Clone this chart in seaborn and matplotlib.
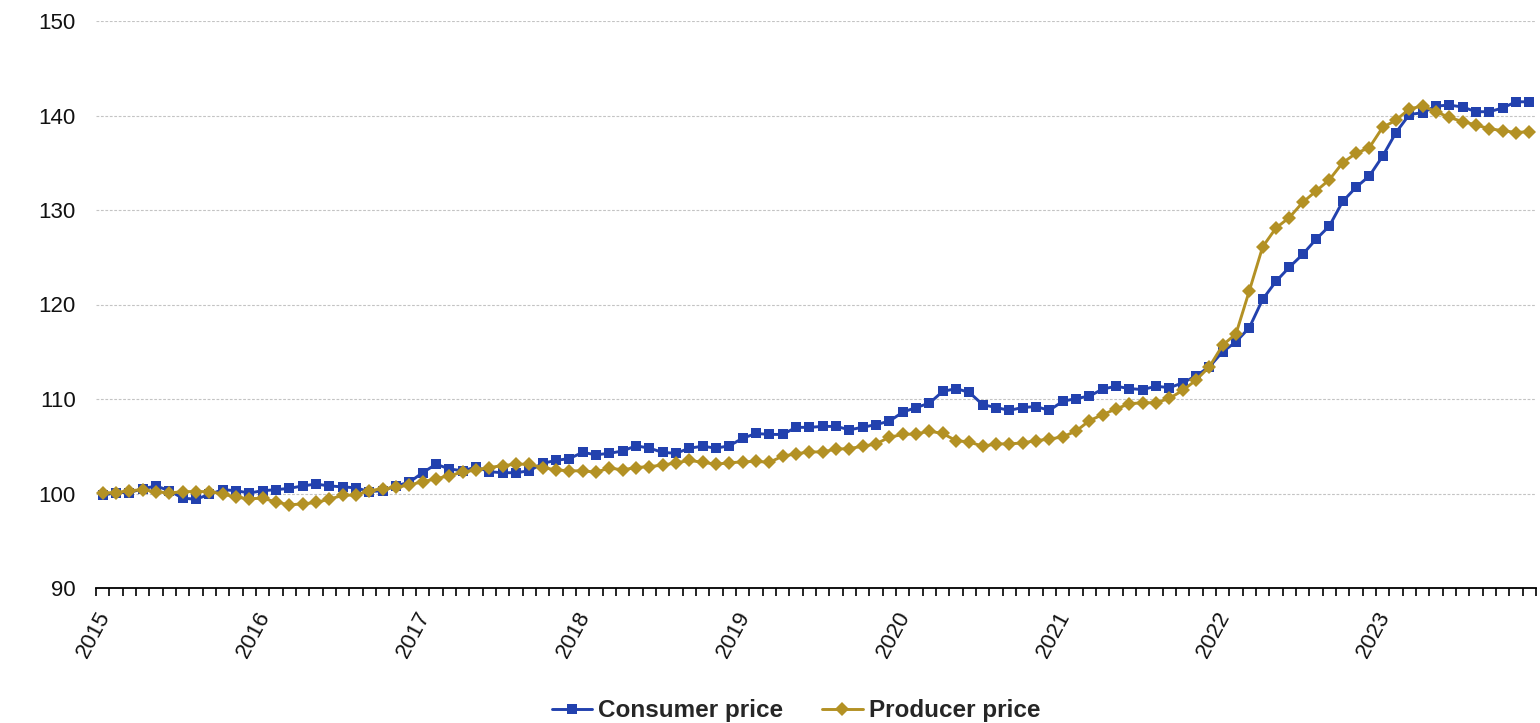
import numpy as np
import pandas as pd
import matplotlib
matplotlib.use("Agg")
import matplotlib.pyplot as plt
import matplotlib.transforms as mtransforms
from matplotlib.ticker import FixedLocator, NullFormatter
import seaborn as sns

# Monthly price indices, January 2015 = ~100
months = pd.date_range("2015-01-01", "2023-12-01", freq="MS")
years = ["2015", "2016", "2017", "2018", "2019", "2020", "2021", "2022", "2023"]

consumer_price = [
    99.8, 100.1, 100.1, 100.5, 100.8, 100.3, 99.5, 99.4, 99.9, 100.4, 100.3, 100.05,
    100.3, 100.4, 100.55, 100.8, 101.0, 100.8, 100.7, 100.6, 100.2, 100.3, 100.8, 101.2,
    102.2, 103.1, 102.6, 102.4, 102.8, 102.3, 102.2, 102.2, 102.4, 103.2, 103.5, 103.7,
    104.35, 104.1, 104.25, 104.5, 105.05, 104.8, 104.35, 104.25, 104.8, 105.0, 104.8, 105.05,
    105.85, 106.35, 106.25, 106.25, 107.0, 107.0, 107.1, 107.1, 106.75, 107.0, 107.3, 107.65,
    108.6, 109.1, 109.55, 110.8, 111.1, 110.7, 109.4, 109.1, 108.8, 109.1, 109.2, 108.8,
    109.75, 110.05, 110.3, 111.05, 111.35, 111.1, 111.0, 111.35, 111.2, 111.7, 112.45, 113.4,
    115.0, 116.05, 117.55, 120.55, 122.45, 123.95, 125.3, 126.9, 128.3, 130.9, 132.4, 133.6,
    135.7, 138.2, 140.1, 140.3, 141.0, 141.1, 140.9, 140.4, 140.4, 140.8, 141.45, 141.45,
]

producer_price = [
    100.05, 100.1, 100.3, 100.4, 100.2, 100.05, 100.2, 100.2, 100.2, 99.95, 99.6, 99.45,
    99.5, 99.1, 98.8, 98.9, 99.05, 99.4, 99.8, 99.85, 100.3, 100.5, 100.65, 100.9,
    101.25, 101.55, 101.9, 102.25, 102.5, 102.75, 102.95, 103.1, 103.1, 102.75, 102.5, 102.4,
    102.4, 102.25, 102.7, 102.5, 102.75, 102.85, 103.0, 103.25, 103.5, 103.3, 103.1, 103.25,
    103.35, 103.4, 103.3, 103.95, 104.2, 104.4, 104.4, 104.7, 104.75, 105.0, 105.25, 105.95,
    106.25, 106.3, 106.6, 106.35, 105.6, 105.45, 105.0, 105.25, 105.25, 105.35, 105.6, 105.75,
    106.0, 106.6, 107.7, 108.35, 108.95, 109.5, 109.6, 109.6, 110.07, 110.9, 112.0, 113.4,
    115.7, 116.9, 121.45, 126.1, 128.1, 129.2, 130.8, 132.0, 133.2, 135.0, 136.0, 136.6,
    138.75, 139.5, 140.7, 141.0, 140.4, 139.8, 139.35, 139.0, 138.6, 138.4, 138.2, 138.3,
]

y_ticks = [90, 100, 110, 120, 130, 140, 150]

blue = "#2241AE"
gold = "#B39124"

df = pd.DataFrame({
    "month": np.arange(len(months)),
    "Consumer price": consumer_price,
    "Producer price": producer_price,
})

sns.set_theme(style="white")
plt.rcParams["font.family"] = ["Liberation Sans", "DejaVu Sans"]

fig = plt.figure(figsize=(15.4, 7.23), dpi=100)
ax = fig.add_axes([96 / 1540, 1 - 588 / 723, 1440 / 1540, 567 / 723])

sns.lineplot(data=df, x="month", y="Consumer price", ax=ax, color=blue,
             linewidth=2.1, marker="s", markersize=7, markeredgewidth=0,
             label="Consumer price", legend=False)
sns.lineplot(data=df, x="month", y="Producer price", ax=ax, color=gold,
             linewidth=2.1, marker="D", markersize=7.6, markeredgewidth=0,
             label="Producer price", legend=False)

# Axis limits: one slot per month
ax.set_xlim(-0.5, len(months) - 0.5)
ax.set_ylim(y_ticks[0], y_ticks[-1])

# Horizontal dashed gridlines
ax.set_yticks(y_ticks)
ax.yaxis.grid(True, color="#c4c4c4", linestyle=(0, (2.5, 1.5)), linewidth=0.8)
ax.xaxis.grid(False)
ax.tick_params(axis="y", length=0, pad=14.5, labelsize=16, labelcolor="#111111")

# Month boundary ticks, labelled at year starts
year_pos = [12 * k - 0.5 for k in range(len(years))]
ax.xaxis.set_major_locator(FixedLocator(year_pos))
ax.set_xticklabels(years)
ax.xaxis.set_minor_locator(FixedLocator([m - 0.5 for m in range(len(months) + 1)]))
ax.xaxis.set_minor_formatter(NullFormatter())
ax.tick_params(axis="x", which="both", direction="out", length=5.5, width=1.2,
               color="black", bottom=True)
ax.tick_params(axis="x", which="major", labelsize=16, pad=12.5, labelcolor="#111111")
offset = mtransforms.ScaledTranslation(9 / 100, 0, fig.dpi_scale_trans)
for lbl in ax.get_xticklabels():
    lbl.set_rotation(62)
    lbl.set_ha("right")
    lbl.set_va("center")
    lbl.set_rotation_mode("anchor")
    lbl.set_transform(lbl.get_transform() + offset)

ax.set_xlabel("")
ax.set_ylabel("")
for side in ["left", "right", "top"]:
    ax.spines[side].set_visible(False)
ax.spines["bottom"].set_color("black")
ax.spines["bottom"].set_linewidth(1.3)

handles, labels = ax.get_legend_handles_labels()
fig.legend(handles, labels, loc="center", bbox_to_anchor=(0.517, 1 - 711 / 723),
           ncol=2, frameon=False, handlelength=1.65, columnspacing=1.6,
           handletextpad=0.25, prop={"weight": "bold", "size": 17.5})

fig.savefig("out.png", dpi=100)
